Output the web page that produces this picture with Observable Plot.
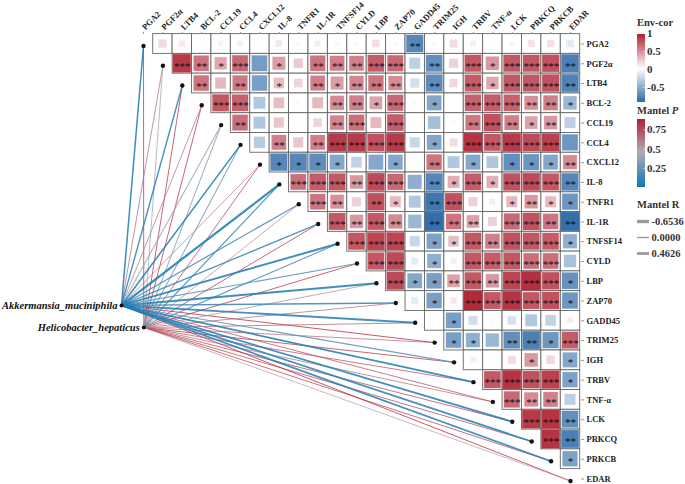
<!DOCTYPE html>
<html><head><meta charset="utf-8">
<script src="https://cdn.jsdelivr.net/npm/d3@7"></script>
<script src="https://cdn.jsdelivr.net/npm/@observablehq/plot@0.6"></script>
<style>
html,body{margin:0;padding:0;background:#fff;overflow:hidden}
#wrap{position:relative;width:685px;height:484px;font-family:"Liberation Serif",serif}
#wrap>*{position:absolute}
.ttl{font:bold 10.5px "Liberation Serif",serif;color:#333;white-space:nowrap}
svg{overflow:visible}
</style></head><body><div id="wrap"></div>
<script>
const genes=["PGA2","PGF2α","LTB4","BCL-2","CCL19","CCL4","CXCL12","IL-8","TNFR1","IL-1R","TNFSF14","CYLD","LBP","ZAP70","GADD45","TRIM25","IGH","TRBV","TNF-α","LCK","PRKCQ","PRKCB","EDAR"];
// upper-triangle correlations: each row lists columns to the right of the diagonal
const envCor=[
[.16,.1,.005,-.06,.07,.004,.1,.03,.08,.04,.03,.14,.03,-.75,-.03,.15,.07,.003,.05,.12,.13,-.13],
[.85,.6,.38,.65,-.62,.42,.22,.6,.55,.55,.7,.65,-.3,-.7,.2,.72,.45,.72,.72,.75,-.8],
[.6,.3,.58,-.6,.28,.18,.55,.42,.52,.6,.5,-.2,-.72,.17,.7,.38,.72,.72,.75,-.78],
[.72,.68,-.35,.28,.03,.3,.5,.55,.4,.65,-.03,-.55,0,.68,.7,.68,.48,.55,-.45],
[.62,-.35,.25,.02,.18,.52,.62,.3,.7,.01,-.4,-.03,.58,.75,.55,.4,.45,-.3],
[-.32,.55,.25,.55,.85,.85,.75,.85,-.25,-.55,.15,.88,.72,.85,.78,.82,-.65],
[-.75,-.75,-.72,-.55,-.28,-.55,-.55,0,.6,-.35,-.55,-.35,-.7,-.65,-.55,.5],
[.62,.7,.72,.45,.78,.65,-.5,-.75,.35,.7,.35,.75,.78,.72,-.75],
[.6,.48,.2,.75,.3,-.35,-.85,.75,.2,.08,.3,.45,.3,-.65],
[.72,.45,.72,.5,-.45,-.9,.6,.4,.2,.65,.75,.6,-.9],
[.72,.8,.8,-.25,-.58,.28,.72,.55,.75,.72,.7,-.5],
[.72,.78,-.12,-.5,.08,.72,.7,.72,.62,.62,-.38],
[.78,-.55,-.6,.4,.72,.45,.8,.9,.75,-.68],
[-.12,-.6,.1,.92,.72,.88,.72,.75,-.65],
[.005,-.6,-.2,-.03,-.18,-.35,-.28,.08],
[-.6,-.5,-.45,-.7,-.8,-.65,.7],
[.07,.005,.15,.45,.17,-.55],
[.72,.88,.75,.82,-.58],
[.65,.5,.55,-.3],
[.85,.88,-.7],
[.88,-.8],
[-.58]
];
const starCounts=[
[0,0,0,0,0,0,0,0,0,0,0,0,0,2,0,0,0,0,0,0,0,0],
[3,2,1,3,0,1,0,2,2,2,3,3,0,2,0,3,1,3,3,3,2],
[2,0,2,0,1,0,2,1,2,2,2,0,2,0,3,1,3,3,3,2],
[3,3,0,0,0,0,2,2,1,3,0,1,0,3,3,3,2,2,1],
[2,0,0,0,0,2,3,0,3,0,0,0,2,3,2,1,2,0],
[0,2,0,2,3,3,3,3,0,1,0,3,3,3,3,3,0],
[1,1,1,1,0,0,1,0,2,0,1,0,1,1,1,2],
[3,3,3,2,3,3,0,2,1,3,1,3,3,3,2],
[3,2,0,2,1,0,2,3,0,0,1,2,1,1],
[3,2,3,2,0,2,2,2,0,3,3,2,2],
[3,3,3,0,1,1,3,2,3,3,3,1],
[3,3,0,1,0,3,3,3,3,3,0],
[3,1,1,2,3,2,3,3,3,1],
[0,1,0,3,3,3,3,3,1],
[0,1,0,0,0,0,0,0],
[1,1,0,2,2,1,3],
[0,0,0,1,0,1],
[3,3,3,3,1],
[3,2,2,0],
[3,3,2],
[3,2],
[1]
];
const speciesNames=["Akkermansia_muciniphila","Helicobacter_hepaticus"];
const speciesX=[-1.133,0.015];
const speciesY=[13.12,14.24];
const akkP=[.02,.62,.05,.6,.38,.03,.6,.02,.12,.1,.03,.2,.03,.1,.05,.85,.2,.03,.75,.04,.05,.05,.85];
const akkR=[.3,.1,.26,.1,.15,.32,.08,.56,.2,.24,.45,.18,.45,.26,.45,.1,.15,.38,.08,.38,.38,.38,.1];
const helP=[.8,.4,.85,.85,.35,.3,.85,.12,.55,.85,.2,.85,.55,.62,.7,.7,.85,.8,.7,.85,.85,.85,.5];
const helR=[.1,.1,.08,.08,.15,.15,.06,.2,.08,.08,.2,.08,.08,.1,.08,.06,.08,.06,.06,.06,.06,.06,.08];
const mantelRLabels=["-0.6536","0.0000","0.4626"];
const mantelRValues=[-0.6536,0,0.4626];
const envColor=d3.scaleLinear().domain([-1,0,1]).range(["#1f5fa0","#ffffff","#ab1729"]);
const pColor=d3.scaleLinear().domain([0,.45,.9]).range(["#1278b4","#b3abb3","#b2182b"]);
const rWidth=r=>0.6+Math.abs(r)*3;
const font='"Liberation Serif",serif';

const cells=envCor.flatMap((row,i)=>row.map((r,k)=>({i,j:i+1+k,r,s:Math.sqrt(Math.abs(r)),stars:"*".repeat(starCounts[i][k])})));
const targets=genes.map((g,j)=>({j,y:j}));
const links=genes.flatMap((g,j)=>[
 {sx:speciesX[0],sy:speciesY[0],j,p:akkP[j],r:akkR[j]},
 {sx:speciesX[1],sy:speciesY[1],j,p:helP[j],r:helR[j]}
]).sort((a,b)=>b.p-a.p);
const species=speciesNames.map((n,k)=>({n,x:speciesX[k],y:speciesY[k]}));

const main=Plot.plot({
 width:685,height:484,marginTop:33,marginRight:105,marginLeft:0,marginBottom:0,
 x:{domain:[0,22],range:[143,570],axis:null},
 y:{domain:[0,22],range:[43.5,478.5],axis:null},
 color:{type:"identity"},
 style:{fontFamily:font,background:"transparent"},
 marks:[
  Plot.link(links,{x1:"sx",y1:"sy",x2:"j",y2:"j",dy:2,stroke:d=>pColor(d.p),strokeWidth:d=>rWidth(d.r),strokeOpacity:.85}),
  Plot.dot(targets,{x:"j",y:"y",dy:2,r:2.2,fill:"#111",stroke:"none"}),
  Plot.dot(species,{x:"x",y:"y",dy:2,r:2,fill:"#111",stroke:"none"}),
  Plot.text(species,{x:"x",y:"y",dy:2,dx:-4,text:"n",textAnchor:"end",fontWeight:"bold",fontStyle:"italic",fontSize:10.5,fill:"#111"}),
  Plot.rect(cells,{x1:d=>d.j-.5,x2:d=>d.j+.5,y1:d=>d.i-.5,y2:d=>d.i+.5,fill:"#fff",stroke:"#666",strokeWidth:.9}),
  Plot.rect(cells,{x1:d=>d.j-d.s/2,x2:d=>d.j+d.s/2,y1:d=>d.i-d.s/2,y2:d=>d.i+d.s/2,fill:d=>envColor(d.r),stroke:d=>envColor(d.r),strokeOpacity:.3,strokeWidth:1}),
  Plot.text(cells.filter(d=>d.stars),{x:"j",y:"i",dy:2.5,text:"stars",fontSize:11,fill:"#0d0d0d"}),
  Plot.axisX(d3.range(genes.length),{anchor:"top",tickFormat:i=>genes[i],tickRotate:-45,tickSize:2,tickPadding:3,fontSize:8.5,fontWeight:"bold",fill:"#222",stroke:"#999",label:null}),
  Plot.axisY(d3.range(genes.length),{anchor:"right",tickFormat:i=>genes[i],tickSize:3,tickPadding:3,fontSize:8.5,fontWeight:"bold",fill:"#222",stroke:"#999",label:null})
 ]
});
main.style.left="0";main.style.top="0";
const wrap=document.getElementById("wrap");
wrap.append(main);

function title(text,x,y){
 const d=document.createElement("div");d.className="ttl";d.style.left=x+"px";d.style.top=y+"px";
 d.innerHTML=text;wrap.append(d);
}
function ramp(lo,hi,step,colorFn,ticks,fmt,top,h,yMin,yMax){
 const vals=d3.range(lo,hi,step);
 const p=Plot.plot({
  width:48,height:h,marginLeft:0,marginRight:40,marginTop:0,marginBottom:0,
  x:{axis:null,domain:[0,1]},y:{domain:[yMin,yMax],range:[h,0],axis:null},color:{type:"identity"},
  style:{fontFamily:font,background:"transparent"},
  marks:[
   Plot.rect(vals,{x1:0,x2:1,y1:d=>d,y2:d=>d+step*1.2,fill:d=>colorFn(d),shapeRendering:"crispEdges"}),
   Plot.ruleY(ticks,{x1:.8,x2:1,stroke:"#fff",strokeWidth:.7}),
   Plot.axisY(ticks,{anchor:"right",tickSize:0,tickPadding:1.5,tickFormat:fmt,fontSize:11,fontWeight:"bold",fill:"#333",label:null})
  ]
 });
 p.style.left="637px";p.style.top=top+"px";wrap.append(p);
}
title("Env-cor",637,17);
ramp(-0.92,0.96,0.02,d=>envColor(d),[-0.5,0,0.5,1],d=>String(d),33,69,-0.92,1);
title("Mantel <i>P</i>",637,105);
ramp(0,0.88,0.01,d=>pColor(d),[.25,.5,.75],d=>String(d),119,68,0,.885);
title("Mantel R",637,199);

const legendR=Plot.plot({
 width:48,height:50,marginLeft:0,marginRight:36,marginTop:0,marginBottom:0,
 x:{axis:null,domain:[0,1]},y:{type:"point",domain:mantelRLabels,range:[8,41],padding:0,axis:null},
 style:{fontFamily:font,background:"transparent"},
 marks:[
  Plot.ruleY(mantelRLabels,{y:d=>d,x1:0,x2:1,stroke:"#9a9a9a",strokeWidth:d=>rWidth(mantelRValues[mantelRLabels.indexOf(d)])+.8}),
  Plot.axisY(mantelRLabels,{anchor:"right",tickSize:0,tickPadding:2,fontSize:10.5,fontWeight:"bold",fill:"#333",label:null})
 ]
});
legendR.style.left="637px";legendR.style.top="212px";wrap.append(legendR);
</script></body></html>
